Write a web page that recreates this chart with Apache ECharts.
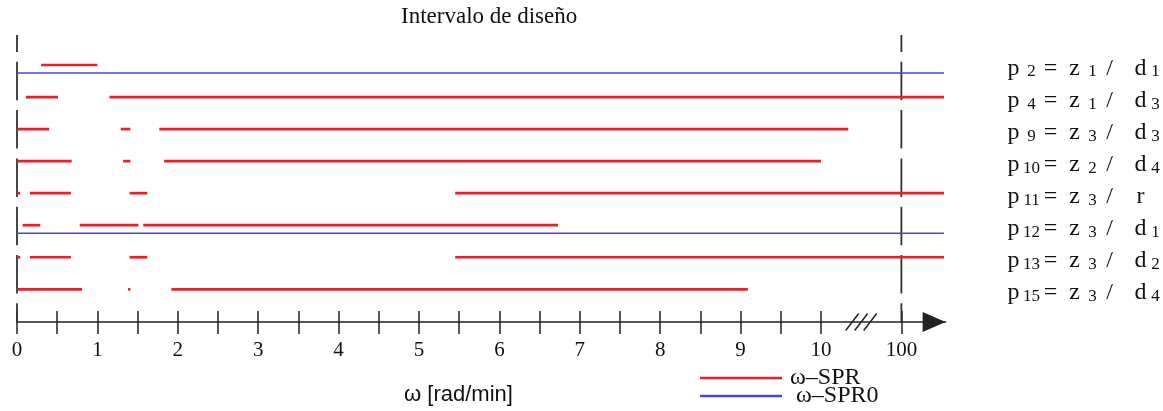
<!DOCTYPE html>
<html><head><meta charset="utf-8">
<script src="https://cdn.jsdelivr.net/npm/echarts@6/dist/echarts.min.js"></script>
<style>html,body{margin:0;padding:0;background:#fff}#c{width:1163px;height:411px}</style>
</head><body><div id="c"></div>
<script>
// ---- data ----
const ROW_P    = ['2','4','9','10','11','12','13','15'];
const ROW_Z    = ['1','1','3','2','3','3','3','3'];
const ROW_D    = ['d','d','d','d','r','d','d','d'];
const ROW_DSUB = ['1','3','3','4','','1','2','4'];

// ω–SPR intervals per row [start, end] (x in axis units; 11 = "100")
const SPR_P2  = [[0.30, 1.00]];
const SPR_P4  = [[0.11, 0.51], [1.15, 11.53]];
const SPR_P9  = [[0.00, 0.40], [1.29, 1.41], [1.77, 10.34]];
const SPR_P10 = [[0.00, 0.68], [1.32, 1.41], [1.83, 10.00]];
const SPR_P11 = [[0.00, 0.04], [0.16, 0.67], [1.40, 1.62], [5.45, 11.53]];
const SPR_P12 = [[0.07, 0.29], [0.78, 1.51], [1.57, 6.73]];
const SPR_P13 = [[0.00, 0.04], [0.16, 0.67], [1.40, 1.62], [5.45, 11.53]];
const SPR_P15 = [[0.00, 0.81], [1.38, 1.41], [1.92, 9.09]];
const SPR_ROWS = [SPR_P2, SPR_P4, SPR_P9, SPR_P10, SPR_P11, SPR_P12, SPR_P13, SPR_P15];

// ω–SPR0 intervals per row
const SPR0_P2  = [[0.00, 11.53]];
const SPR0_P12 = [[0.00, 11.53]];
const SPR0_ROWS = [SPR0_P2, [], [], [], [], SPR0_P12, [], []];

const X_TICKS = [0,0.5,1,1.5,2,2.5,3,3.5,4,4.5,5,5.5,6,6.5,7,7.5,8,8.5,9,9.5,10,11];
const X_LABEL_VALUES = [0,1,2,3,4,5,6,7,8,9,10,11];
const X_LABELS = ['0','1','2','3','4','5','6','7','8','9','10','100'];
const ROW_INDEX = [0,1,2,3,4,5,6,7];
const GUIDE_X = [0, 11];
const BREAK_X = [10.5];

const X_MIN = 0, X_MAX = 11.55;
const Y_MIN = -0.936, Y_MAX = 8.02;

const RED = '#e8202a', BLUE = '#4646dc', INK = '#222';
const SERIF = 'Liberation Serif', SANS = 'Liberation Sans';

function flatten(rows) {
  const out = [];
  rows.forEach((segs, i) => segs.forEach(s => out.push([s[0], s[1], i])));
  return out;
}

function segItem(offset, width) {
  return function (params, api) {
    const a = api.coord([api.value(0), api.value(2)]);
    const b = api.coord([api.value(1), api.value(2)]);
    return { type: 'line',
      shape: { x1: a[0], y1: a[1] + offset, x2: b[0], y2: b[1] + offset },
      style: { stroke: api.visual('color'), lineWidth: width } };
  };
}

const chart = echarts.init(document.getElementById('c'), null, { renderer: 'canvas' });
const grid = { left: 17, right: 217.4, top: 35, bottom: 89, containLabel: false, outerBoundsMode: 'none' };
const legendBase = { orient: 'vertical', left: 700, padding: 0,
  itemWidth: 82, itemHeight: 2.5, icon: 'rect' };

const main = (w, align) => ({ fontFamily: SERIF, fontSize: 24, color: '#111', lineHeight: 24,
  verticalAlign: 'top', width: w, align: align });
const sub = (w) => ({ fontFamily: SERIF, fontSize: 17, color: '#111', lineHeight: 3,
  verticalAlign: 'bottom', width: w, align: 'center' });

chart.setOption({
  animation: false,
  backgroundColor: '#fff',
  title: [
    { text: 'Intervalo de diseño', left: 401, top: 5, padding: 0,
      textStyle: { fontFamily: SERIF, fontSize: 23, fontWeight: 'normal', color: '#111' } },
    { text: 'ω [rad/min]', left: 404, top: 384, padding: 0,
      textStyle: { fontFamily: SANS, fontSize: 22, fontWeight: 'normal', color: '#111' } }
  ],
  legend: [
    Object.assign({}, legendBase, { top: 366, data: ['ω–SPR'],
      textStyle: { fontFamily: SERIF, fontSize: 24, color: '#111', padding: [0,0,0,3] } }),
    Object.assign({}, legendBase, { top: 384, data: ['ω–SPR0'],
      textStyle: { fontFamily: SERIF, fontSize: 24, color: '#111', padding: [0,0,0,9] } })
  ],
  grid: [grid, Object.assign({}, grid)],
  xAxis: [
    { gridIndex: 0, type: 'value', min: X_MIN, max: X_MAX,
      axisLine: { show: false, onZero: false },
      axisTick: { show: true, inside: true, length: 11, customValues: X_TICKS,
        lineStyle: { color: INK, width: 1.5 } },
      axisLabel: { show: false }, splitLine: { show: false } },
    { gridIndex: 1, type: 'value', min: X_MIN, max: X_MAX,
      axisLine: { show: true, onZero: false, lineStyle: { color: INK, width: 1.5 },
        symbol: ['none', 'triangle'], symbolSize: [20, 23], symbolOffset: [0, -11.5] },
      axisTick: { show: true, inside: false, length: 12, customValues: X_TICKS,
        lineStyle: { color: INK, width: 1.5 } },
      axisLabel: { customValues: X_LABEL_VALUES,
        formatter: v => X_LABELS[X_LABEL_VALUES.indexOf(v)],
        fontFamily: SERIF, fontSize: 21, color: '#111', margin: 18 },
      splitLine: { show: false } }
  ],
  yAxis: [
    { gridIndex: 0, type: 'value', inverse: true, min: Y_MIN, max: Y_MAX, position: 'right',
      axisLine: { show: false }, axisTick: { show: false }, splitLine: { show: false },
      axisLabel: {
        customValues: ROW_INDEX, margin: 62, padding: [7, 0, 0, 0],
        formatter: function (v) {
          const i = Math.round(v);
          let s = '{m|p}{s|' + ROW_P[i] + '}{e|=}{m2|z}{s2|' + ROW_Z[i] + '}{sl|/}{sp| }{m3|' + ROW_D[i] + '}';
          if (ROW_DSUB[i]) s += '{s3|' + ROW_DSUB[i] + '}';
          return s;
        },
        rich: {
          m:  main(16, 'left'),
          s:  sub(16),
          e:  main(22, 'center'),
          m2: main(26, 'right'),
          s2: sub(10),
          sl: main(24, 'center'),
          sp: main(10, 'left'),
          m3: main(18, 'left'),
          s3: sub(12)
        }
      } },
    { gridIndex: 1, type: 'value', inverse: true, min: Y_MIN, max: Y_MAX, show: false }
  ],
  series: [
    { type: 'custom', silent: true, xAxisIndex: 0, yAxisIndex: 0,
      data: GUIDE_X.map(x => [x, 0]), encode: { x: 0, y: 1 },
      renderItem: function (params, api) {
        const t = api.coord([api.value(0), Y_MIN]);
        const b = api.coord([api.value(0), Y_MAX]);
        return { type: 'line', shape: { x1: t[0], y1: t[1], x2: b[0], y2: b[1] },
          style: { stroke: '#333', lineWidth: 1.8, lineDash: [38.5, 9.8], lineDashOffset: 21.5 } };
      } },
    { type: 'custom', silent: true, xAxisIndex: 0, yAxisIndex: 0,
      data: BREAK_X.map(x => [x, Y_MAX]), encode: { x: 0, y: 1 },
      renderItem: function (params, api) {
        const c = api.coord([api.value(0), api.value(1)]);
        const children = [-1, 0, 1].map(k => ({ type: 'line',
          shape: { x1: c[0] + k * 9 - 6.5, y1: c[1] + 8.5, x2: c[0] + k * 9 + 6.5, y2: c[1] - 8.5 },
          style: { stroke: INK, lineWidth: 1.5 } }));
        return { type: 'group', children: children };
      } },
    { name: 'ω–SPR', type: 'custom', xAxisIndex: 0, yAxisIndex: 0,
      itemStyle: { color: RED },
      data: flatten(SPR_ROWS), encode: { x: [0, 1], y: 2 },
      renderItem: segItem(0, 2.7) },
    { name: 'ω–SPR0', type: 'custom', xAxisIndex: 0, yAxisIndex: 0,
      itemStyle: { color: BLUE },
      data: flatten(SPR0_ROWS), encode: { x: [0, 1], y: 2 },
      renderItem: segItem(8, 1.6) }
  ]
});
</script>
</body></html>
